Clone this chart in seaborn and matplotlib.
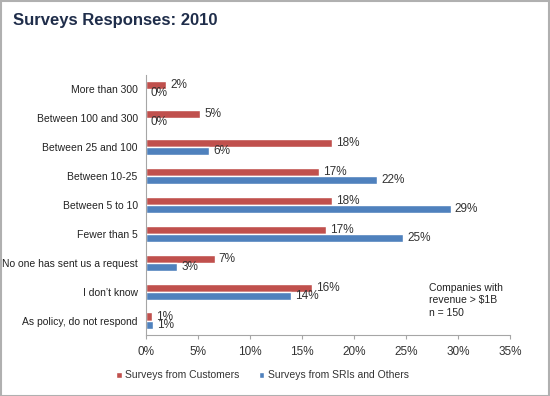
import matplotlib
matplotlib.use("Agg")
import matplotlib.pyplot as plt
import seaborn as sns
import pandas as pd
from matplotlib.patches import Rectangle

categories = ["More than 300", "Between 100 and 300", "Between 25 and 100",
              "Between 10-25", "Between 5 to 10", "Fewer than 5",
              "No one has sent us a request", "I don\u2019t know",
              "As policy, do not respond"]
customers = [1.9, 5.2, 17.9, 16.6, 17.9, 17.3, 6.6, 16.0, 0.6]
sris = [0.0, 0.0, 6.1, 22.2, 29.3, 24.7, 3.0, 13.9, 0.7]
series = ["Surveys from Customers", "Surveys from SRIs and Others"]
xticks = [0, 5, 10, 15, 20, 25, 30, 35]

df = pd.DataFrame({
    "category": categories * 2,
    "value": customers + sris,
    "series": [series[0]] * len(categories) + [series[1]] * len(categories),
})

sns.set_style("white")
plt.rcParams["font.family"] = ["Liberation Sans", "DejaVu Sans"]

fig = plt.figure(figsize=(5.5, 3.96), dpi=100)
ax = fig.add_axes([0.2655, 0.154, 0.927 - 0.2655, 0.8106 - 0.154])

palette = {series[0]: "#C0504D", series[1]: "#4F81BD"}
sns.barplot(data=df, y="category", x="value", hue="series", order=categories,
            hue_order=series, palette=palette, orient="h", width=0.56,
            saturation=1, ax=ax, legend=True)

for cont in ax.containers:
    ax.bar_label(cont, labels=[f"{v:.0f}%" for v in cont.datavalues],
                 padding=3, fontsize=8.5, color="#333333")

ax.set_xlim(0, 35)
ax.set_xticks(xticks)
ax.set_xticklabels([f"{t}%" for t in xticks], fontsize=8.5, color="#333333")
ax.set_yticks(range(len(categories)))
ax.set_yticklabels(categories, fontsize=7.5, color="#222222")
ax.set_ylim(len(categories) - 0.5, -0.5)
ax.set_xlabel("")
ax.set_ylabel("")

for s in ["top", "right"]:
    ax.spines[s].set_visible(False)
for s in ["left", "bottom"]:
    ax.spines[s].set_color("#a6a6a6")
    ax.spines[s].set_linewidth(0.8)

ax.set_yticks([i - 0.5 for i in range(len(categories) + 1)], minor=True)
ax.tick_params(axis="y", which="major", length=0, pad=6)
ax.tick_params(axis="y", which="minor", length=3, color="#a6a6a6", width=0.8)
ax.tick_params(axis="x", which="major", length=3, color="#a6a6a6", width=0.8,
               bottom=True, pad=5)

leg = ax.legend(loc="upper center", bbox_to_anchor=(0.32, -0.1), ncol=2,
                frameon=False, fontsize=7.5, handlelength=0.55, handleheight=0.55,
                handletextpad=0.35, columnspacing=1.8)
for t in leg.get_texts():
    t.set_color("#333333")

fig.text(429 / 550, 1 - 283 / 396, "Companies with\nrevenue > $1B\nn = 150",
         fontsize=7.5, color="#222222", va="top", ha="left", linespacing=1.3)

fig.text(13 / 550, 1 - 12.5 / 396, "Surveys Responses: 2010", fontsize=12,
         fontweight="bold", color="#1F2D4A", va="top", ha="left")

fig.patches.append(Rectangle((0.001, 0.001), 0.997, 0.997, transform=fig.transFigure,
                             fill=False, edgecolor="#b0b0b0", linewidth=1.5))

fig.savefig("out.png", dpi=100)
